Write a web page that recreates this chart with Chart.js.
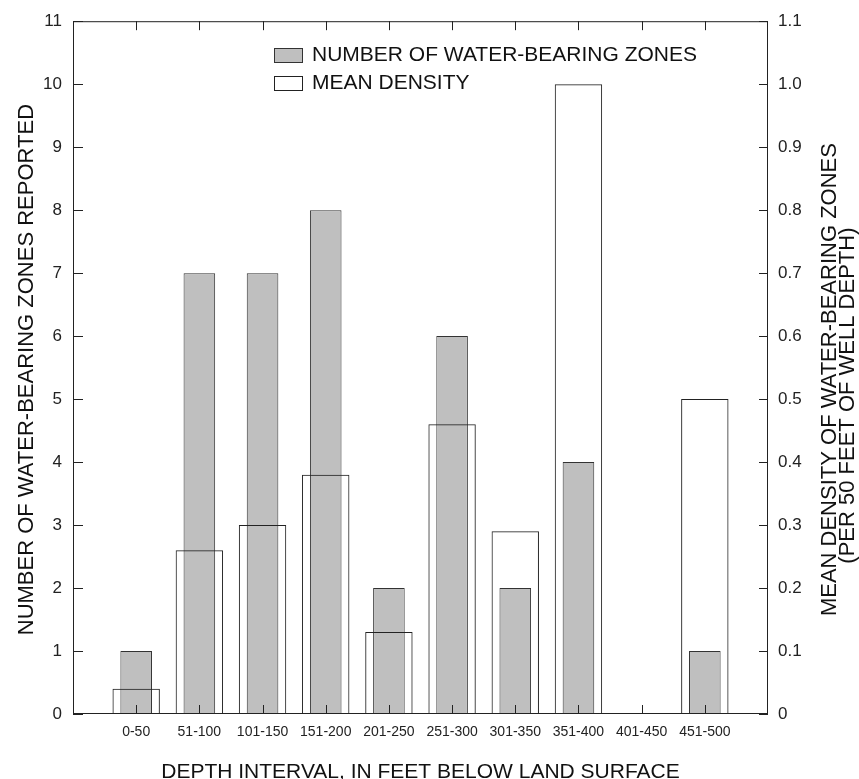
<!DOCTYPE html>
<html>
<head>
<meta charset="utf-8">
<title>Water-bearing zones by depth interval</title>
<script src="https://cdn.jsdelivr.net/npm/chart.js@4/dist/chart.umd.min.js"></script>
<style>
  html, body { margin: 0; padding: 0; background: #fff; }
  canvas { display: block; }
</style>
</head>
<body>
<canvas id="zonesChart" width="859" height="779"></canvas>
<script>
const depthIntervals = ['0-50', '51-100', '101-150', '151-200', '201-250',
  '251-300', '301-350', '351-400', '401-450', '451-500'];
const zoneCounts = [1, 7, 7, 8, 2, 6, 2, 4, 0, 1];
const meanDensity = [0.04, 0.26, 0.30, 0.38, 0.13, 0.46, 0.29, 1.00, 0, 0.50];
const countTickLabels = ['0', '1', '2', '3', '4', '5', '6', '7', '8', '9', '10', '11'];
const densityTickLabels = ['0', '0.1', '0.2', '0.3', '0.4', '0.5', '0.6', '0.7', '0.8', '0.9', '1.0', '1.1'];

const countLabel = 'NUMBER OF WATER-BEARING ZONES';
const densityLabel = 'MEAN DENSITY';
const xTitle = 'DEPTH INTERVAL, IN FEET BELOW LAND SURFACE';
const leftTitle = 'NUMBER OF WATER-BEARING ZONES REPORTED';
const rightTitle = ['MEAN DENSITY OF WATER-BEARING ZONES', '(PER 50 FEET OF WELL DEPTH)'];

// one empty slot at each end gives the wide margin inside the frame
const axisLabels = [''].concat(depthIntervals, ['']);
const padded = function(arr) { return [null].concat(arr, [null]); };

const FONT = '"Liberation Sans", Arial, sans-serif';
const INK = '#222';

Chart.defaults.font.family = FONT;
Chart.defaults.color = INK;

// frame, inward ticks, titles and legend
const framePlugin = {
  id: 'frame',
  afterDatasetsDraw: function(chart) {
    const ctx = chart.ctx;
    const area = chart.chartArea;
    const x = chart.scales.x;
    const yl = chart.scales.yCount;
    const yr = chart.scales.yDensity;

    ctx.save();
    ctx.strokeStyle = INK;
    ctx.lineWidth = 1;
    ctx.strokeRect(area.left + 0.5, area.top + 0.5, area.right - area.left - 1, area.bottom - area.top - 1);

    ctx.beginPath();
    x.ticks.forEach(function(t, i) {
      if (!axisLabels[i]) return;
      const px = Math.round(x.getPixelForTick(i)) + 0.5;
      ctx.moveTo(px, area.bottom);
      ctx.lineTo(px, area.bottom - 9);
      ctx.moveTo(px, area.top);
      ctx.lineTo(px, area.top + 9);
    });
    yl.ticks.forEach(function(t, i) {
      const py = Math.round(yl.getPixelForTick(i)) + 0.5;
      ctx.moveTo(area.left, py);
      ctx.lineTo(area.left + 10, py);
    });
    yr.ticks.forEach(function(t, i) {
      const py = Math.round(yr.getPixelForTick(i)) + 0.5;
      ctx.moveTo(area.right, py);
      ctx.lineTo(area.right - 9, py);
    });
    ctx.stroke();
    ctx.restore();
  },
  afterDraw: function(chart) {
    const ctx = chart.ctx;
    const area = chart.chartArea;
    const midX = (area.left + area.right) / 2;
    const midY = (area.top + area.bottom) / 2;
    const ds = chart.data.datasets;

    ctx.save();
    ctx.fillStyle = '#111';
    ctx.font = '21px ' + FONT;
    ctx.textAlign = 'center';
    ctx.textBaseline = 'alphabetic';
    ctx.fillText(xTitle, midX, 778);

    ctx.font = '22px ' + FONT;
    ctx.save();
    ctx.translate(33, midY + 2);
    ctx.rotate(-Math.PI / 2);
    ctx.fillText(leftTitle, 0, 0);
    ctx.restore();

    rightTitle.forEach(function(line, i) {
      ctx.save();
      ctx.translate(836 + i * 18, midY + 12 + i * 16);
      ctx.rotate(-Math.PI / 2);
      ctx.fillText(line, 0, 0);
      ctx.restore();
    });

    // legend
    ctx.font = '21px ' + FONT;
    ctx.textAlign = 'left';
    ctx.lineWidth = 1;
    ds.forEach(function(d, i) {
      const top = 48 + i * 28;
      ctx.fillStyle = d.legendFill;
      ctx.fillRect(274, top, 28, 14);
      ctx.strokeStyle = d.borderColor;
      ctx.strokeRect(274.5, top + 0.5, 28, 14);
      ctx.fillStyle = '#111';
      ctx.fillText(d.label, 312, top + 13);
    });
    ctx.restore();
  }
};

new Chart(document.getElementById('zonesChart'), {
  type: 'bar',
  data: {
    labels: axisLabels,
    datasets: [
      {
        label: countLabel,
        data: padded(zoneCounts),
        yAxisID: 'yCount',
        backgroundColor: '#bfbfbf',
        legendFill: '#bfbfbf',
        borderColor: '#333',
        borderWidth: 1,
        barPercentage: 0.5,
        categoryPercentage: 1,
        grouped: false,
        order: 2
      },
      {
        label: densityLabel,
        data: padded(meanDensity),
        yAxisID: 'yDensity',
        backgroundColor: 'rgba(255,255,255,0)',
        legendFill: '#ffffff',
        borderColor: '#222',
        borderWidth: 1,
        barPercentage: 0.75,
        categoryPercentage: 1,
        grouped: false,
        order: 1
      }
    ]
  },
  options: {
    responsive: false,
    animation: false,
    events: [],
    layout: { padding: { top: 20, left: 0, right: 0, bottom: 0 } },
    plugins: {
      legend: { display: false },
      tooltip: { enabled: false }
    },
    scales: {
      x: {
        type: 'category',
        offset: false,
        grid: { display: false, drawTicks: false },
        border: { display: false },
        ticks: {
          autoSkip: false,
          maxRotation: 0,
          padding: 10,
          color: INK,
          font: { size: 14 }
        },
        afterFit: function(scale) { scale.height = 65; }
      },
      yCount: {
        position: 'left',
        min: 0,
        max: 11,
        grid: { display: false, drawTicks: false },
        border: { display: false },
        ticks: {
          stepSize: 1,
          padding: 11,
          color: INK,
          font: { size: 17 },
          callback: function(v, i) { return countTickLabels[i]; }
        },
        afterFit: function(scale) { scale.width = 73; }
      },
      yDensity: {
        position: 'right',
        min: 0,
        max: 1.1,
        grid: { display: false, drawTicks: false },
        border: { display: false },
        ticks: {
          stepSize: 0.1,
          padding: 10,
          color: INK,
          font: { size: 17 },
          callback: function(v, i) { return densityTickLabels[i]; }
        },
        afterFit: function(scale) { scale.width = 91; }
      }
    }
  },
  plugins: [framePlugin]
});
</script>
</body>
</html>
